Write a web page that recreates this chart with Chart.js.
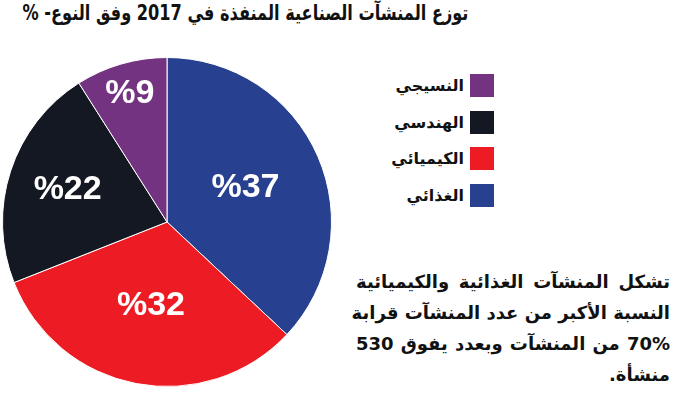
<!DOCTYPE html>
<html lang="ar">
<head>
<meta charset="utf-8">
<script src="https://cdn.jsdelivr.net/npm/chart.js@4.4.0/dist/chart.umd.min.js"></script>
<style>
    html, body { margin: 0; padding: 0; background: #fff; }
    body { width: 682px; height: 402px; position: relative; overflow: hidden; font-family: "DejaVu Sans", sans-serif; }
    #title { position: absolute; top: 1px; right: 214px; font-size: 21px; font-weight: bold; color: #111; white-space: nowrap; direction: rtl; transform-origin: right top; }
    #pie_box { position: absolute; left: 2px; top: 57px; width: 330px; height: 330px; }
    #legend { position: absolute; top: 74px; right: 188px; direction: rtl; }
    .legend_row { display: flex; align-items: center; height: 23px; margin-bottom: 13.5px; }
    .legend_box { width: 24px; height: 23px; margin-left: 6px; }
    .legend_text { font-size: 16px; font-weight: bold; color: #111; }
    #note { position: absolute; top: 266px; left: 356px; width: 314px; direction: rtl; font-size: 18px; font-weight: bold; color: #111; line-height: 31px; }
    .note_line { text-align: justify; text-align-last: justify; white-space: nowrap; }
    .note_last { text-align: right; }
</style>
</head>
<body>
<div id="title">توزع المنشآت الصناعية المنفذة في 2017 وفق النوع- %</div>
<div id="pie_box"><canvas id="pie"></canvas></div>
<div id="legend"></div>
<div id="note">
    <div class="note_line">تشكل المنشآت الغذائية والكيميائية</div>
    <div class="note_line">النسبة الأكبر من عدد المنشآت قرابة</div>
    <div class="note_line">70% من المنشآت وبعدد يفوق 530</div>
    <div class="note_last">منشأة.</div>
</div>
<script>
// data
const categories = ["الغذائي", "الكيميائي", "الهندسي", "النسيجي"];
const shares = [37, 32, 22, 9];
const colours = ["#27408f", "#ed1c24", "#141822", "#733380"];

// how far out (fraction of the radius) each value label sits
const label_radius = [0.52, 0.52, 0.635, 0.81];

const slice_labels = {
    id: "slice_labels",
    afterDatasetsDraw(chart) {
        let ctx = chart.ctx;
        let arcs = chart.getDatasetMeta(0).data;
        ctx.save();
        ctx.fillStyle = "#fff";
        ctx.font = "bold 34px 'Liberation Sans', Arial, sans-serif";
        ctx.textAlign = "center";
        ctx.textBaseline = "middle";
        arcs.forEach((arc, i) => {
            let p = arc.getProps(["x", "y", "startAngle", "endAngle", "outerRadius"], true);
            let mid = (p.startAngle + p.endAngle) / 2;
            let r = p.outerRadius * label_radius[i];
            ctx.fillText("%" + shares[i], p.x + Math.cos(mid) * r, p.y + Math.sin(mid) * r);
        });
        ctx.restore();
    }
};

function build_legend(chart) {
    let box = document.getElementById("legend");
    let items = chart.options.plugins.legend.labels.generateLabels(chart).reverse();
    items.forEach(item => {
        let row = document.createElement("div");
        row.className = "legend_row";
        let sq = document.createElement("div");
        sq.className = "legend_box";
        sq.style.background = item.fillStyle;
        let txt = document.createElement("span");
        txt.className = "legend_text";
        txt.textContent = item.text;
        row.appendChild(sq);
        row.appendChild(txt);
        box.appendChild(row);
    });
}

// squeeze the title so it spans the same width as in the picture
function fit_title(width) {
    let t = document.getElementById("title");
    let w = t.getBoundingClientRect().width;
    if (w > width) {
        t.style.transform = "scaleX(" + (width / w) + ")";
    }
}

let pie_chart = new Chart(document.getElementById("pie").getContext("2d"), {
    type: "pie",
    data: {
        labels: categories,
        datasets: [{
            data: shares,
            backgroundColor: colours,
            borderColor: "#fff",
            borderWidth: 1
        }]
    },
    options: {
        responsive: true,
        maintainAspectRatio: false,
        animation: false,
        layout: { padding: 0 },
        plugins: {
            legend: { display: false },
            tooltip: { enabled: false }
        }
    },
    plugins: [slice_labels]
});

build_legend(pie_chart);
fit_title(446);
</script>
</body>
</html>
